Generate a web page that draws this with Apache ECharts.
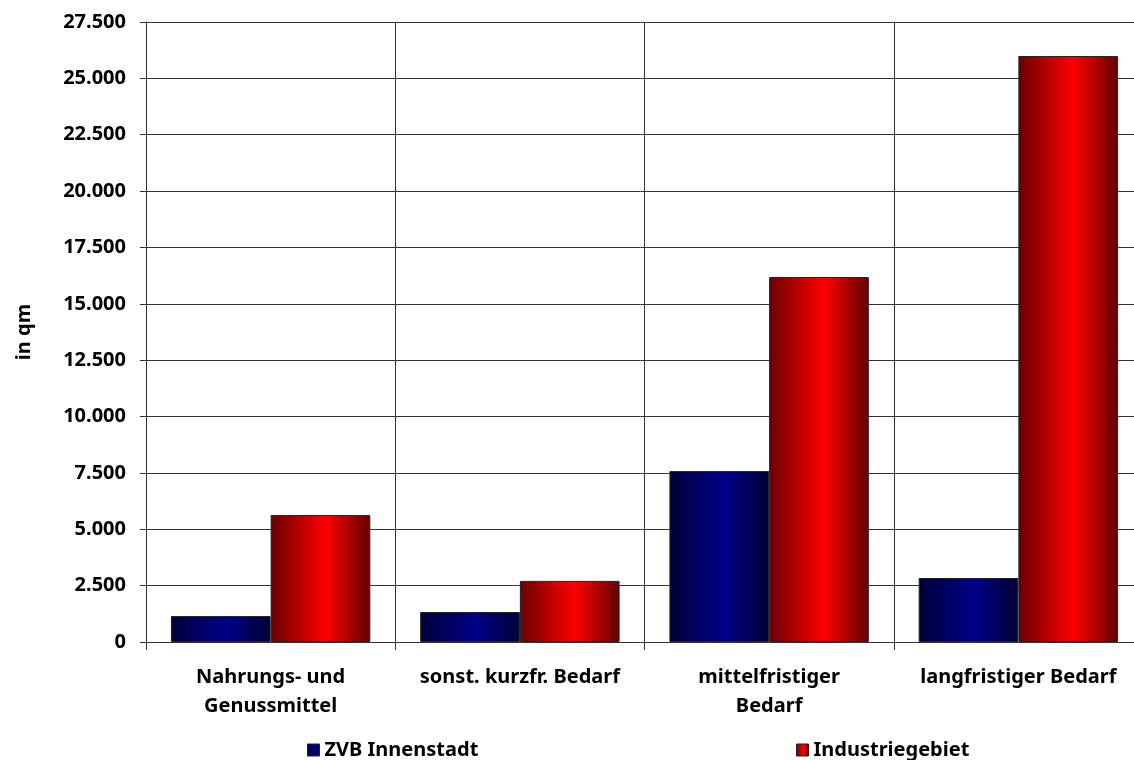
<!DOCTYPE html>
<html>
<head>
<meta charset="utf-8">
<script src="https://cdn.jsdelivr.net/npm/echarts@6/dist/echarts.min.js"></script>
<style>
  html, body { margin: 0; padding: 0; background: #fff; }
  #chart { width: 1134px; height: 760px; }
</style>
</head>
<body>
<div id="chart"></div>
<script>
// Verkaufsfläche nach Sortimentsgruppen (in qm)
const categories = [
  'Nahrungs- und\nGenussmittel',
  'sonst. kurzfr. Bedarf',
  'mittelfristiger\nBedarf',
  'langfristiger Bedarf'
];
const seriesNames = ['ZVB Innenstadt', 'Industriegebiet'];
const innenstadt = [1150, 1330, 7580, 2840];
const industriegebiet = [5630, 2710, 16190, 25990];
const yMax = 27500;
const yStep = 2500;

const FONT = '"Noto Sans", sans-serif';

function fmtDE(v) {
  return String(v).replace(/\B(?=(\d{3})+(?!\d))/g, '.');
}

function hGrad(edge, mid, edgeRight) {
  return new echarts.graphic.LinearGradient(0, 0, 1, 0, [
    { offset: 0, color: edge },
    { offset: 0.55, color: mid },
    { offset: 1, color: edgeRight }
  ]);
}

const legendText = { fontFamily: FONT, fontWeight: 'bold', fontSize: 20, color: '#000' };

const chart = echarts.init(document.getElementById('chart'));
chart.setOption({
  animation: false,
  backgroundColor: '#fff',
  grid: {
    left: 146, width: 997, top: 22, bottom: 118,
    containLabel: false,
    outerBoundsMode: 'none'
  },
  legend: [
    {
      data: [seriesNames[0]],
      left: 302, top: 735,
      itemWidth: 12, itemHeight: 12,
      icon: 'rect',
      itemStyle: { borderColor: '#222', borderWidth: 1 },
      textStyle: legendText
    },
    {
      data: [seriesNames[1]],
      left: 791, top: 735,
      itemWidth: 12, itemHeight: 12,
      icon: 'rect',
      itemStyle: { borderColor: '#222', borderWidth: 1 },
      textStyle: legendText
    }
  ],
  xAxis: {
    type: 'category',
    data: categories,
    axisLine: { show: true, lineStyle: { color: '#333', width: 1 } },
    axisTick: { show: true, length: 8, lineStyle: { color: '#333' } },
    splitLine: { show: true, lineStyle: { color: '#333', width: 1 } },
    axisLabel: {
      interval: 0,
      margin: 21,
      fontFamily: FONT, fontWeight: 'bold', fontSize: 20, color: '#000',
      lineHeight: 29, align: 'center'
    }
  },
  yAxis: {
    type: 'value',
    min: 0, max: yMax, interval: yStep,
    name: 'in qm',
    nameLocation: 'middle',
    nameGap: 112,
    nameRotate: 90,
    nameTextStyle: { fontFamily: FONT, fontWeight: 'bold', fontSize: 20, color: '#000' },
    axisLine: { show: true, lineStyle: { color: '#333', width: 1 } },
    axisTick: { show: true, length: 6, lineStyle: { color: '#333' } },
    splitLine: { show: true, lineStyle: { color: '#333', width: 1 } },
    axisLabel: {
      margin: 20,
      fontFamily: FONT, fontWeight: 'bold', fontSize: 20, color: '#000',
      formatter: v => fmtDE(v)
    }
  },
  series: [
    {
      name: seriesNames[0],
      type: 'bar',
      data: innenstadt,
      barGap: '0%',
      barCategoryGap: '20%',
      itemStyle: {
        color: hGrad('#000038', '#000088', '#000033'),
        borderColor: '#222', borderWidth: 1
      }
    },
    {
      name: seriesNames[1],
      type: 'bar',
      data: industriegebiet,
      barGap: '0%',
      barCategoryGap: '20%',
      itemStyle: {
        color: hGrad('#6a0000', '#ff0000', '#600000'),
        borderColor: '#222', borderWidth: 1
      }
    }
  ]
});
</script>
</body>
</html>
